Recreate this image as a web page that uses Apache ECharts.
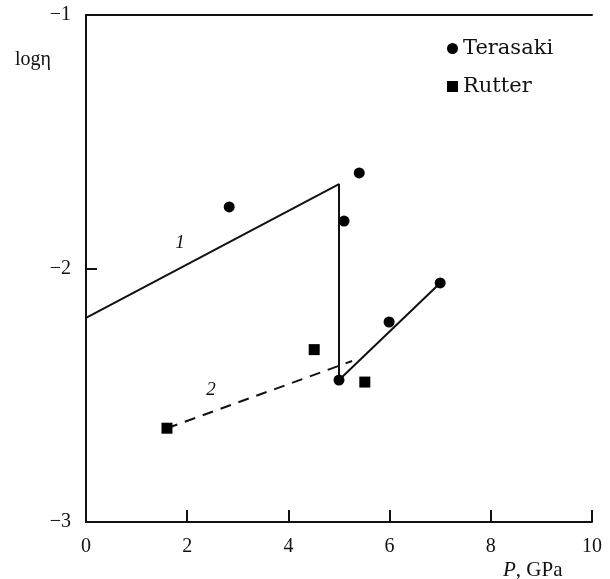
<!DOCTYPE html>
<html>
<head>
<meta charset="utf-8">
<script src="https://cdn.jsdelivr.net/npm/echarts@6/dist/echarts.min.js"></script>
<style>
html,body{margin:0;padding:0;background:#fff;}
#chart{width:610px;height:579px;}
</style>
</head>
<body>
<div id="chart"></div>
<script>
// Viscosity vs pressure
const xTicks = [0, 2, 4, 6, 8, 10];
const yTicks = [-3, -2, -1];

const terasaki = [
  [2.83, -1.757],
  [5.40, -1.623],
  [5.10, -1.813],
  [5.99, -2.211],
  [7.00, -2.057],
  [5.00, -2.440]
];
const rutter = [
  [1.60, -2.630],
  [4.51, -2.320],
  [5.51, -2.448]
];
// curve 1: rise, drop at the transition, then rise again
const curve1 = [
  [0, -2.195],
  [5.0, -1.667],
  [5.0, -2.440],
  [7.0, -2.057]
];
// curve 2: dashed fit through Rutter data
const curve2 = [
  [1.60, -2.630],
  [5.26, -2.365]
];
const curveLabels = [
  { text: '1', at: [1.86, -1.90] },
  { text: '2', at: [2.47, -2.48] }
];

const serif = '"Liberation Serif", "Times New Roman", serif';
const chart = echarts.init(document.getElementById('chart'));

const fmtY = v => (v < 0 ? '\u2212' + Math.abs(v) : String(v));

const option = {
  backgroundColor: '#fff',
  animation: false,
  grid: { left: 86, right: 18, top: 15, bottom: 57 },
  xAxis: [
    {
      type: 'value', min: 0, max: 10, interval: 2, position: 'bottom',
      axisLine: { lineStyle: { color: '#111', width: 2 } },
      axisTick: { inside: true, length: 12, lineStyle: { color: '#111', width: 2 } },
      axisLabel: { color: '#111', fontFamily: serif, fontSize: 20, margin: 15 },
      splitLine: { show: false }
    },
    {
      type: 'value', min: 0, max: 10, position: 'top',
      axisLine: { show: true, lineStyle: { color: '#111', width: 2 } },
      axisTick: { show: false }, axisLabel: { show: false }, splitLine: { show: false }
    }
  ],
  yAxis: [
    {
      type: 'value', min: -3, max: -1, interval: 1, position: 'left',
      axisLine: { show: true, lineStyle: { color: '#111', width: 2 } },
      axisTick: { show: true, inside: true, length: 11, lineStyle: { color: '#111', width: 2 } },
      axisLabel: { color: '#111', fontFamily: serif, fontSize: 20, margin: 15, formatter: fmtY },
      splitLine: { show: false }
    },
    {
      type: 'value', min: -3, max: -1, position: 'right',
      axisLine: { show: true, lineStyle: { color: '#111', width: 2 } },
      axisTick: { show: false }, axisLabel: { show: false }, splitLine: { show: false }
    }
  ],
  legend: {
    orient: 'vertical', left: 442, top: 33, itemGap: 17,
    itemWidth: 11, itemHeight: 11,
    itemStyle: { opacity: 1 },
    textStyle: { color: '#111', fontFamily: '"DejaVu Serif", serif', fontSize: 21 },
    data: [
      { name: 'Terasaki', icon: 'circle' },
      { name: 'Rutter', icon: 'rect' }
    ]
  },
  series: [
    {
      name: 'curve1', type: 'line', data: curve1, showSymbol: false, symbol: 'none',
      lineStyle: { color: '#111', width: 2 }, silent: true, z: 2
    },
    {
      name: 'curve2', type: 'line', data: curve2, showSymbol: false, symbol: 'none',
      lineStyle: { color: '#111', width: 2, type: [11, 8] }, silent: true, z: 2
    },
    {
      name: 'Terasaki', type: 'scatter', data: terasaki, symbol: 'circle', symbolSize: 11,
      itemStyle: { color: '#000', opacity: 1 }, z: 3
    },
    {
      name: 'Rutter', type: 'scatter', data: rutter, symbol: 'rect', symbolSize: 11,
      itemStyle: { color: '#000', opacity: 1 }, z: 3
    }
  ]
};
chart.setOption(option);

// axis titles and curve numbers
const graphics = [
  {
    type: 'text', left: 15, top: 50,
    style: { text: 'log\u03b7', font: '20px ' + serif, fill: '#111' }
  },
  {
    type: 'text', left: 503, top: 560,
    style: {
      text: '{i|P}, GPa',
      font: '21px ' + serif, fill: '#111',
      rich: { i: { fontStyle: 'italic', fontFamily: serif, fontSize: 21, fill: '#111' } }
    }
  }
];
curveLabels.forEach(c => {
  const p = chart.convertToPixel({ xAxisIndex: 0, yAxisIndex: 0 }, c.at);
  graphics.push({
    type: 'text', x: p[0], y: p[1],
    style: { text: c.text, font: 'italic 19px ' + serif, fill: '#111', align: 'center', verticalAlign: 'middle' }
  });
});
chart.setOption({ graphic: graphics });
</script>
</body>
</html>
